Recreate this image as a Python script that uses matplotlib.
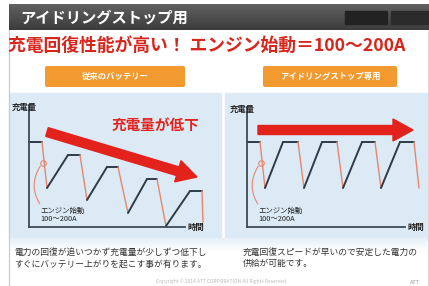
import matplotlib
matplotlib.use("Agg")
import matplotlib.pyplot as plt
import numpy as np
from matplotlib.patches import Rectangle, FancyBboxPatch

plt.rcParams['font.family'] = ['Noto Sans CJK JP', 'DejaVu Sans']

# ---- data (time, charge) ----
left_time   = [0, 13, 18, 39, 51, 58, 78, 89, 99, 118, 128, 137, 161, 173, 174]
left_charge = [85, 85, 39, 72, 72, 27, 60, 60, 14, 48, 48, 1, 36, 36, 5]
right_time   = [0, 13, 18, 36, 51, 57, 75, 90, 96, 115, 128, 134, 153, 167, 172]
right_charge = [85, 85, 39, 85, 85, 39, 85, 85, 39, 85, 85, 39, 85, 85, 39]

title = "アイドリングストップ用"
subtitle = "充電回復性能が高い！ エンジン始動＝100〜200A"
button_labels = ["従来のバッテリー", "アイドリングストップ専用"]
y_label = "充電量"
x_label = "時間"
drop_label = "充電量が低下"
start_label = "エンジン始動\n100〜200A"
captions = ["電力の回復が追いつかず充電量が少しずつ低下し\nすぐにバッテリー上がりを起こす事が有ります。",
            "充電回復スピードが早いので安定した電力の\n供給が可能です。"]
copyright_text = "Copyright © 2014 ATT CORPORATION All Rights Reserved."

W, H = 429, 286
fig = plt.figure(figsize=(W / 100, H / 100), dpi=100)
fig.patch.set_facecolor('white')
bg = fig.add_axes([0, 0, 1, 1])
bg.set_xlim(0, W)
bg.set_ylim(H, 0)
bg.axis('off')

# header bar with gradient
grad = np.linspace(0, 1, 50).reshape(-1, 1)
bg.imshow(grad, extent=[9, W, 30, 4], cmap=matplotlib.colors.LinearSegmentedColormap.from_list(
    'g', ['#616161', '#3c3c3c']), aspect='auto', zorder=1)
bg.text(20, 17.5, title, color='white', fontsize=11, fontweight='bold', va='center', ha='left', zorder=3)
bg.add_patch(Rectangle((345, 11), 42, 13, color='#222222', zorder=2))
bg.add_patch(Rectangle((391, 11), 38, 13, color='#2a2a2a', zorder=2))

# frame lines
bg.plot([8.5, 8.5], [30, H], color='#c8c8c8', lw=0.8, zorder=2)
bg.plot([427.5, 427.5], [30, H], color='#d8d8d8', lw=0.8, zorder=2)

# subtitle
bg.text(8, 46, subtitle, color='#d9261c', fontsize=12.8, fontweight='bold', va='center', ha='left', zorder=3)

# orange buttons
for (x0, x1), lab in zip([(45, 185), (263, 397)], button_labels):
    bg.add_patch(FancyBboxPatch((x0, 66), x1 - x0, 21, boxstyle='round,pad=0,rounding_size=2',
                                fc='#f29a30', ec='none', zorder=2))
    bg.text((x0 + x1) / 2, 76.5, lab, color='white', fontsize=6, fontweight='bold',
            ha='center', va='center', zorder=3)

# panels
bg.add_patch(Rectangle((9, 93), 212, 147, color='#dceaf5', zorder=1))
bg.add_patch(Rectangle((225, 93), 202, 147, color='#dceaf5', zorder=1))
grad2 = np.linspace(0, 1, 30).reshape(-1, 1)
cm2 = matplotlib.colors.LinearSegmentedColormap.from_list('g2', ['#e6f0f8', '#ffffff'])
bg.imshow(grad2, extent=[9, 427, 252, 238], cmap=cm2, aspect='auto', zorder=1)

# captions
bg.text(14, 258, captions[0], color='#333333', fontsize=6.3, ha='left', va='center', linespacing=1.35, zorder=3)
bg.text(243, 258, captions[1], color='#333333', fontsize=6.3, ha='left', va='center', linespacing=1.35, zorder=3)
bg.text(222, 281, copyright_text, color='#bbbbbb', fontsize=3.5, ha='center', va='center', zorder=3)
bg.text(410, 282, "ATT", color='#999999', fontsize=4, ha='left', va='center', zorder=3)

dark = '#2e3b48'
salmon = '#e8866c'
red = '#e3221c'


def chart(x_px, width_px, times, charges, axis_end, yaxis_top, arrow, drop_text):
    ax = fig.add_axes([x_px / W, (H - 227) / H, width_px / W, 127 / H])
    ax.set_xlim(0, width_px)
    ax.set_ylim(0, 127)
    ax.patch.set_alpha(0)
    for s in ['top', 'right']:
        ax.spines[s].set_visible(False)
    ax.spines['left'].set_bounds(0, yaxis_top)
    ax.spines['bottom'].set_bounds(0, axis_end)
    for s in ['left', 'bottom']:
        ax.spines[s].set_color('#3d4b57')
        ax.spines[s].set_linewidth(1.3)
    ax.set_xticks([])
    ax.set_yticks([])
    for i in range(len(times) - 1):
        c = salmon if charges[i + 1] < charges[i] else dark
        lw = 1.0 if c == salmon else 1.4
        ax.plot(times[i:i + 2], charges[i:i + 2], color=c, lw=lw, solid_capstyle='round', clip_on=False)
    ax.text(-17, yaxis_top - 2, y_label, fontsize=6, fontweight='bold', color='#222222',
            ha='left', va='center', clip_on=False)
    ax.text(axis_end + 3, 0, x_label, fontsize=6, fontweight='bold', color='#222222',
            ha='left', va='center', clip_on=False)
    (ax0, ay0), (ax1, ay1) = arrow
    ax.arrow(ax0, ay0, ax1 - ax0, ay1 - ay0, width=9, head_width=22, head_length=20,
             length_includes_head=True, color=red, zorder=4, clip_on=False)
    if drop_text:
        ax.text(83, 102, drop_text, color=red, fontsize=10.5, fontweight='bold', ha='left', va='center')
    # engine start annotation
    ax.plot([times[1] + 1], [(charges[1] + charges[2]) / 2 + 2], marker='o', ms=4, mfc='none',
            mec=salmon, mew=0.8, clip_on=False)
    ax.annotate(start_label, xy=(times[1] - 1, (charges[1] + charges[2]) / 2), xytext=(11, 12),
                fontsize=5.3, color='#222222', ha='left', va='center', linespacing=1.1,
                arrowprops=dict(arrowstyle='-', color=salmon, lw=0.8, relpos=(0.05, 0.95),
                                connectionstyle='arc3,rad=-0.35', shrinkA=0, shrinkB=1))
    return ax


chart(29, 186, left_time, left_charge, 156, 122, ((18, 95), (168, 50)), drop_label)
chart(247, 182, right_time, right_charge, 158, 120, ((11, 97), (166, 97)), None)

fig.savefig('out.png', dpi=100, facecolor='white')
